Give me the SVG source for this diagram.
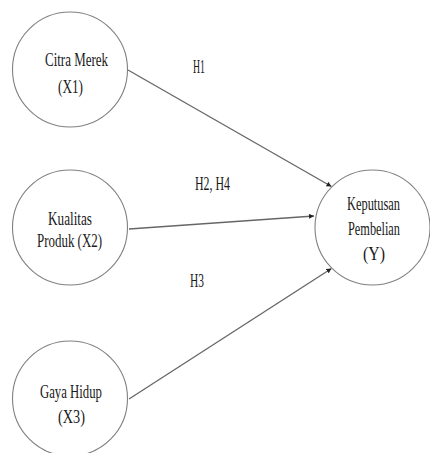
<svg xmlns="http://www.w3.org/2000/svg" width="430" height="453" viewBox="0 0 430 453">
<style>
.node{fill:#fff;stroke:#808080;stroke-width:1.1}
.t{font-family:"Liberation Serif","Times New Roman",serif;font-size:19px;fill:#1a1a1a;text-anchor:middle}
.e{stroke:#666;stroke-width:1.3;fill:none;marker-end:url(#ah)}
</style>
<defs>
<marker id="ah" viewBox="0 0 6 6" refX="6" refY="3" markerWidth="5" markerHeight="5" markerUnits="userSpaceOnUse" orient="auto">
<path d="M0,0 L6,3 L0,6 z" fill="#222"/>
</marker>
</defs>
<rect width="430" height="453" fill="#fff"/>
<g id="connectors">
<line class="e" x1="128" y1="70" x2="331.5" y2="186.5"/>
<line class="e" x1="129" y1="229" x2="314" y2="216"/>
<line class="e" x1="129" y1="399" x2="331.5" y2="268.5"/>
<text class="t" x="199" y="73" textLength="12" lengthAdjust="spacingAndGlyphs">H1</text>
<text class="t" x="212.5" y="190" textLength="35" lengthAdjust="spacingAndGlyphs">H2, H4</text>
<text class="t" x="197" y="287" textLength="14" lengthAdjust="spacingAndGlyphs">H3</text>
</g>
<g id="x1">
<circle class="node" cx="70" cy="69.5" r="57.5"/>
<text class="t" x="76.5" y="66" textLength="63" lengthAdjust="spacingAndGlyphs">Citra Merek</text>
<text class="t" x="70.5" y="93" textLength="25" lengthAdjust="spacingAndGlyphs">(X1)</text>
</g>
<g id="x2">
<circle class="node" cx="70" cy="227.5" r="57.5"/>
<text class="t" x="70" y="225" textLength="44" lengthAdjust="spacingAndGlyphs">Kualitas</text>
<text class="t" x="69.5" y="247" textLength="65" lengthAdjust="spacingAndGlyphs">Produk (X2)</text>
</g>
<g id="x3">
<circle class="node" cx="70" cy="398.5" r="57.5"/>
<text class="t" x="71" y="398" textLength="62" lengthAdjust="spacingAndGlyphs">Gaya Hidup</text>
<text class="t" x="71.5" y="423" textLength="27" lengthAdjust="spacingAndGlyphs">(X3)</text>
</g>
<g id="y">
<circle class="node" cx="372.5" cy="227.5" r="57.5"/>
<text class="t" x="373.5" y="210" textLength="53" lengthAdjust="spacingAndGlyphs">Keputusan</text>
<text class="t" x="374" y="235" textLength="52" lengthAdjust="spacingAndGlyphs">Pembelian</text>
<text class="t" x="374" y="260" textLength="22" lengthAdjust="spacingAndGlyphs">(Y)</text>
</g>
</svg>
